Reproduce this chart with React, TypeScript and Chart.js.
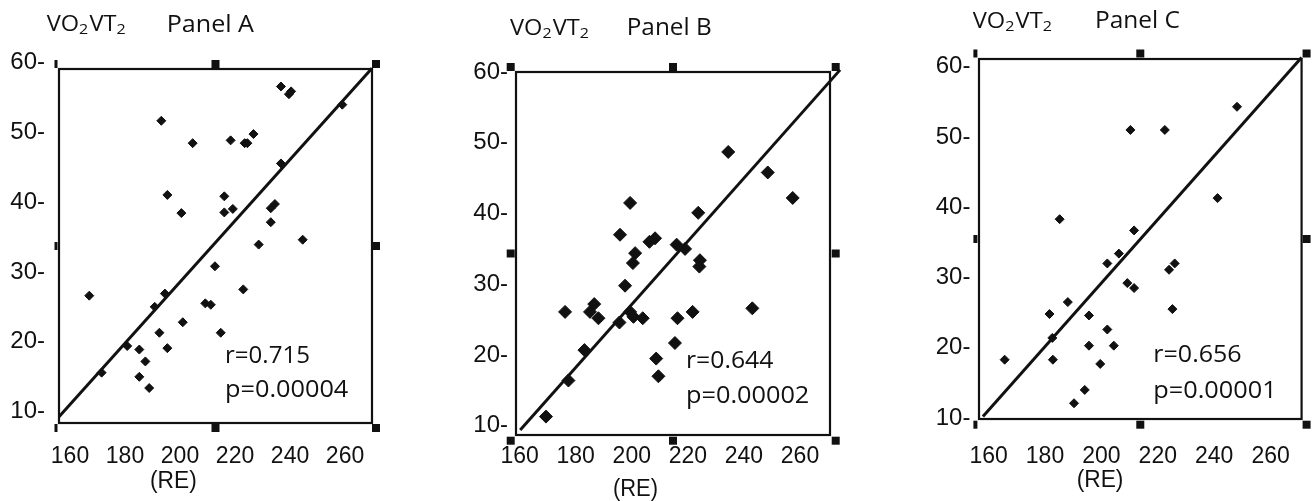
import { useEffect, useRef } from 'react';
import { Chart, registerables } from 'chart.js';

Chart.register(...registerables);

// ---------- data ----------
const xTickValues = [160, 180, 200, 220, 240, 260];
const yTickValues = [10, 20, 30, 40, 50, 60];
const xAxisLabel = '(RE)';
const yAxisLabelParts = ['VO', '2', 'VT', '2']; // VO₂VT₂
const panelTitles = ['Panel A', 'Panel B', 'Panel C'];
const rLabels = ['r=0.715', 'r=0.644', 'r=0.656'];
const pLabels = ['p=0.00004', 'p=0.00002', 'p=0.00001'];

const panelAX = [236.7, 239.6, 240.4, 259, 193.2, 204.6, 218.4, 223.5, 224.5, 226.7, 236.7, 195.4, 200.5, 216.1, 216.1, 219.2, 233, 234.5, 233, 244.6, 228.6, 212.7, 167, 194.5, 223, 190.8, 209.2, 211.2, 201, 192.5, 214.8, 180.8, 185.2, 195.4, 187.4, 171.5, 185.2, 188.8];
const panelAY = [56.5, 55.4, 55.8, 53.9, 51.6, 48.4, 48.8, 48.4, 48.4, 49.7, 45.5, 41, 38.4, 40.8, 38.5, 39, 39.1, 39.7, 37.1, 34.6, 33.9, 30.8, 26.6, 26.9, 27.5, 25, 25.5, 25.3, 22.8, 21.3, 21.3, 19.4, 18.9, 19.1, 17.2, 15.6, 15, 13.4];
const panelALineX = [156, 269.8];
const panelALineY = [9.3, 59.1];

const panelBX = [234.4, 248.5, 257.4, 199.4, 223.7, 195.8, 208.3, 206.3, 216, 219, 201.2, 200.4, 224.3, 224.1, 197.6, 176.2, 186.6, 185.1, 188.1, 195.6, 199.4, 200.6, 203.9, 221.7, 216.3, 243, 215.4, 183.1, 208.7, 209.5, 177.4, 169.4];
const panelBY = [48.7, 45.8, 42.2, 41.5, 40.1, 37, 36.5, 36, 35.6, 35, 34.4, 33, 33.4, 32.5, 29.8, 26.1, 27.2, 26.1, 25.2, 24.6, 26.1, 25.4, 25.2, 26.1, 25.2, 26.6, 21.7, 20.7, 19.5, 17, 16.4, 11.3];
const panelBLineX = [160.2, 274.3];
const panelBLineY = [9.4, 60.3];

const panelCX = [248.1, 210.3, 222.5, 241.2, 185.2, 211.6, 206.2, 202.1, 226, 224, 209.2, 211.6, 188.1, 181.6, 195.6, 225.2, 202.1, 182.6, 195.6, 204.4, 165.7, 182.8, 199.6, 194.1, 190.3];
const panelCY = [54.3, 51, 51, 41.3, 38.3, 36.7, 33.4, 32, 32, 31.1, 29.2, 28.5, 26.5, 24.8, 24.6, 25.5, 22.6, 21.4, 20.3, 20.3, 18.3, 18.3, 17.7, 14, 12.1];
const panelCLineX = [158, 271];
const panelCLineY = [10.2, 61.3];

// ---------- layout ----------
const INK = '#111';
const TICK_FONT = '"Liberation Sans", Arial, sans-serif';
const TEXT_FONT = '"Open Sans", sans-serif';

type TextBox = { x: number; y: number; w: number };
type Layout = {
  left: number; width: number;
  pad: { left: number; right: number; top: number; bottom: number };
  yW: number; xH: number; yPad: number; xPad: number;
  xMin: number; xMax: number; yMin: number; yMax: number;
  radius: number;
  out: { l: number; r: number; t: number; b: number };
  leftW: number;
  vo: TextBox; pan: TextBox; r: TextBox; p: TextBox; re: TextBox;
};

const layouts: Layout[] = [
  {
    left: 0, width: 435, pad: { left: 0, right: 63, top: 69, bottom: 18 }, yW: 59, xH: 60, yPad: 14, xPad: 20,
    xMin: 156, xMax: 269.8, yMin: 8.4, yMax: 59, radius: 4.5,
    out: { l: 3, r: 4, t: 5, b: 5 }, leftW: 3,
    vo: { x: 46.7, y: 30.7, w: 80 }, pan: { x: 166.7, y: 31.5, w: 87.3 },
    r: { x: 225, y: 363, w: 85 }, p: { x: 225, y: 397, w: 123.3 }, re: { x: 150, y: 488, w: 46.7 },
  },
  {
    left: 440, width: 435, pad: { left: 0, right: 45, top: 72, bottom: 6 }, yW: 76, xH: 60, yPad: 8, xPad: 8,
    xMin: 158.7, xMax: 270.7, yMin: 8.7, yMax: 60, radius: 6.5,
    out: { l: 5.3, r: 5.7, t: 5, b: 5.7 }, leftW: 8,
    vo: { x: 70, y: 35, w: 80 }, pan: { x: 186.7, y: 35, w: 85 },
    r: { x: 246, y: 368, w: 87.3 }, p: { x: 246, y: 403, w: 123.3 }, re: { x: 173, y: 496, w: 45 },
  },
  {
    left: 880, width: 435, pad: { left: 0, right: 13, top: 59, bottom: 22 }, yW: 99, xH: 60, yPad: 8.6, xPad: 24,
    xMin: 156.6, xMax: 271, yMin: 9.86, yMax: 61.1, radius: 4.5,
    out: { l: 3.6, r: 5, t: 5.5, b: 5.7 }, leftW: 4,
    vo: { x: 92.7, y: 28.3, w: 80.3 }, pan: { x: 215, y: 28.3, w: 85 },
    r: { x: 273.3, y: 361.7, w: 88.3 }, p: { x: 273.3, y: 398, w: 123.3 }, re: { x: 196.7, y: 486.5, w: 46.7 },
  },
];

const panelData = [
  { xs: panelAX, ys: panelAY, lx: panelALineX, ly: panelALineY },
  { xs: panelBX, ys: panelBY, lx: panelBLineX, ly: panelBLineY },
  { xs: panelCX, ys: panelCY, lx: panelCLineX, ly: panelCLineY },
];

// draw text stretched horizontally to a target width
function fitText(ctx: CanvasRenderingContext2D, text: string, font: string, b: TextBox) {
  ctx.font = font;
  const w = ctx.measureText(text).width;
  ctx.save();
  ctx.translate(b.x, b.y);
  ctx.scale(b.w / w, 1);
  ctx.fillText(text, 0, 0);
  ctx.restore();
}

function drawVO(ctx: CanvasRenderingContext2D, b: TextBox) {
  const big = `22px ${TEXT_FONT}`;
  const small = `15px ${TEXT_FONT}`;
  const parts = yAxisLabelParts.map((t, i) => ({ t, sub: i % 2 === 1 }));
  let total = 0;
  const widths = parts.map((p) => {
    ctx.font = p.sub ? small : big;
    const w = ctx.measureText(p.t).width + (p.sub ? 1 : 0);
    total += w;
    return w;
  });
  ctx.save();
  ctx.translate(b.x, b.y);
  ctx.scale(b.w / total, 1);
  let x = 0;
  parts.forEach((p, i) => {
    ctx.font = p.sub ? small : big;
    ctx.fillText(p.t, x, p.sub ? 3 : 0);
    x += widths[i];
  });
  ctx.restore();
}

function makeDecor(L: Layout, idx: number) {
  return {
    id: 'decor' + idx,
    beforeDatasetsDraw(chart: any) {
      const { ctx, chartArea: a } = chart;
      ctx.save();
      ctx.strokeStyle = INK;
      ctx.lineWidth = 2.2;
      ctx.strokeRect(a.left, a.top, a.right - a.left, a.bottom - a.top);
      const l = a.left - L.out.l, r = a.right + L.out.r, t = a.top - L.out.t, b = a.bottom + L.out.b;
      const mx = (a.left + a.right) / 2, my = (a.top + a.bottom) / 2;
      ctx.fillStyle = INK;
      const sq = (x: number, y: number, w: number, h: number) => ctx.fillRect(x - w / 2, y - h / 2, w, h);
      [[l, t], [l, my], [l, b]].forEach(([x, y]) => sq(x, y, L.leftW, 8));
      [[mx, t], [r, t], [r, my], [mx, b], [r, b]].forEach(([x, y]) => sq(x, y, 8, 8));
      ctx.restore();
    },
    afterDraw(chart: any) {
      const ctx = chart.ctx as CanvasRenderingContext2D;
      ctx.save();
      ctx.fillStyle = INK;
      ctx.textBaseline = 'alphabetic';
      ctx.textAlign = 'left';
      drawVO(ctx, L.vo);
      fitText(ctx, panelTitles[idx], `24px ${TEXT_FONT}`, L.pan);
      fitText(ctx, rLabels[idx], `23px ${TEXT_FONT}`, L.r);
      fitText(ctx, pLabels[idx], `23px ${TEXT_FONT}`, L.p);
      fitText(ctx, xAxisLabel, `23px ${TICK_FONT}`, L.re);
      ctx.restore();
    },
  };
}

function Panel({ idx }: { idx: number }) {
  const ref = useRef<HTMLCanvasElement>(null);
  const L = layouts[idx];
  useEffect(() => {
    if (!ref.current) return;
    const d = panelData[idx];
    const chart = new Chart(ref.current, {
      type: 'scatter',
      data: {
        datasets: [
          {
            type: 'line',
            data: d.lx.map((x, i) => ({ x, y: d.ly[i] })),
            borderColor: INK,
            borderWidth: 3,
            pointRadius: 0,
            showLine: true,
            fill: false,
            clip: false as any,
          } as any,
          {
            data: d.xs.map((x, i) => ({ x, y: d.ys[i] })),
            pointStyle: 'rectRot',
            pointRadius: L.radius,
            pointBackgroundColor: INK,
            pointBorderColor: INK,
            pointBorderWidth: 1,
            clip: false as any,
          },
        ],
      },
      options: {
        animation: false,
        responsive: false,
        devicePixelRatio: 1,
        events: [],
        layout: { padding: L.pad },
        plugins: { legend: { display: false }, tooltip: { enabled: false }, title: { display: false } },
        scales: {
          x: {
            type: 'linear',
            min: L.xMin,
            max: L.xMax,
            grid: { display: false, drawTicks: false },
            border: { display: false },
            afterBuildTicks: (s: any) => { s.ticks = xTickValues.map((v) => ({ value: v })); },
            afterFit: (s: any) => { s.height = L.xH; },
            ticks: { autoSkip: false, maxRotation: 0, padding: L.xPad, color: INK, font: { family: TICK_FONT, size: 23 }, callback: (v: any) => String(v) },
          },
          y: {
            type: 'linear',
            min: L.yMin,
            max: L.yMax,
            grid: { display: false, drawTicks: false },
            border: { display: false },
            afterBuildTicks: (s: any) => { s.ticks = yTickValues.map((v) => ({ value: v })); },
            afterFit: (s: any) => { s.width = L.yW; },
            ticks: { autoSkip: false, padding: L.yPad, color: INK, font: { family: TICK_FONT, size: 24 }, callback: (v: any) => `${v}-` },
          },
        },
      },
      plugins: [makeDecor(L, idx)],
    });
    return () => chart.destroy();
  }, [idx]);
  return (
    <canvas
      ref={ref}
      width={L.width}
      height={501}
      style={{ position: 'absolute', left: L.left, top: 0, width: L.width, height: 501 }}
    />
  );
}

export default function App() {
  return (
    <div style={{ position: 'fixed', left: 0, top: 0, width: 1315, height: 501, background: '#fff', overflow: 'hidden' }}>
      <Panel idx={0} />
      <Panel idx={1} />
      <Panel idx={2} />
    </div>
  );
}
